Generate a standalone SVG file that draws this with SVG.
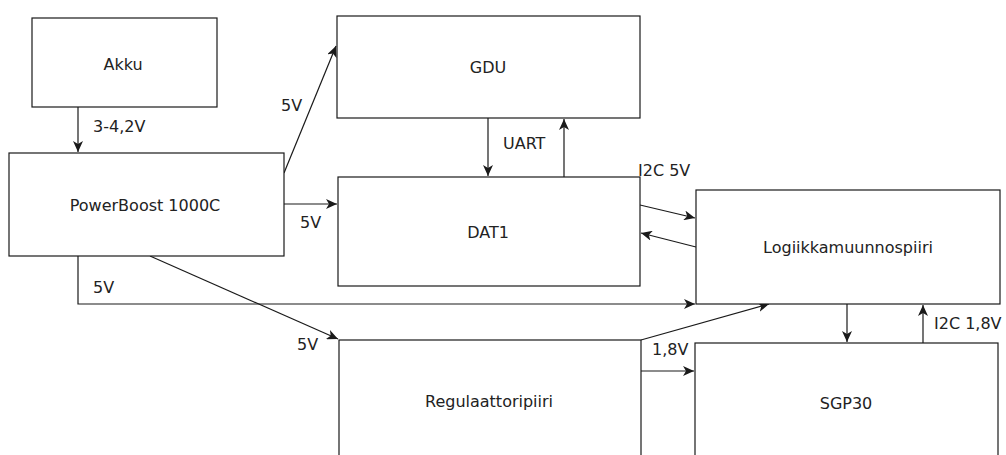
<svg xmlns="http://www.w3.org/2000/svg" width="1006" height="455" viewBox="0 0 1006 455">
<defs>
<marker id="arr" viewBox="0 0 11 10" refX="11" refY="5" markerWidth="11" markerHeight="10" markerUnits="userSpaceOnUse" orient="auto">
<path d="M0,0 L11,5 L0,10 L3,5 z" fill="#1a1a1a"/>
</marker>
<style>
.box{fill:#fff;stroke:#1a1a1a;stroke-width:1.2}
.t{font-family:"DejaVu Sans",Verdana,sans-serif;font-size:16px;fill:#222}
.c{text-anchor:middle}
.ln{fill:none;stroke:#1a1a1a;stroke-width:1.2}
.a{marker-end:url(#arr)}
</style>
</defs>
<rect width="1006" height="455" fill="#fff"/>
<g id="connectors">
<line class="ln a" x1="78" y1="107" x2="78" y2="152"/>
<line class="ln a" x1="284" y1="173" x2="336" y2="46"/>
<line class="ln a" x1="284" y1="204" x2="337" y2="204"/>
<polyline class="ln a" points="78,256 78,304 695,304"/>
<line class="ln a" x1="150" y1="256" x2="338" y2="339"/>
<line class="ln a" x1="488" y1="118" x2="488" y2="176"/>
<line class="ln a" x1="564" y1="177" x2="564" y2="119"/>
<line class="ln a" x1="640" y1="205" x2="695" y2="218"/>
<line class="ln a" x1="696" y1="247" x2="641" y2="233"/>
<line class="ln a" x1="641" y1="340" x2="769" y2="304"/>
<line class="ln a" x1="641" y1="371" x2="694" y2="371"/>
<line class="ln a" x1="847" y1="304" x2="847" y2="342"/>
<line class="ln a" x1="923" y1="343" x2="923" y2="305"/>
<text class="t" x="93" y="132">3-4,2V</text>
<text class="t" x="281" y="111">5V</text>
<text class="t" x="300" y="228">5V</text>
<text class="t" x="93" y="293">5V</text>
<text class="t" x="297" y="350">5V</text>
<text class="t" x="503" y="149">UART</text>
<text class="t" x="638" y="176">I2C 5V</text>
<text class="t" x="652" y="355">1,8V</text>
<text class="t" x="934" y="329">I2C 1,8V</text>
</g>
<g id="akku"><rect class="box" x="32" y="18" width="185" height="89"/><text class="t c" x="123" y="70">Akku</text></g>
<g id="powerboost"><rect class="box" x="9" y="153" width="275" height="103"/><text class="t c" x="145" y="211">PowerBoost 1000C</text></g>
<g id="gdu"><rect class="box" x="337" y="16" width="303" height="102"/><text class="t c" x="488" y="73">GDU</text></g>
<g id="dat1"><rect class="box" x="338" y="177" width="302" height="109"/><text class="t c" x="488" y="238">DAT1</text></g>
<g id="logiikka"><rect class="box" x="696" y="190" width="304" height="114"/><text class="t c" x="848" y="253">Logiikkamuunnospiiri</text></g>
<g id="regulaattori"><rect class="box" x="339" y="340" width="302" height="130"/><text class="t c" x="489" y="407">Regulaattoripiiri</text></g>
<g id="sgp30"><rect class="box" x="695" y="343" width="303" height="130"/><text class="t c" x="846" y="409">SGP30</text></g>
</svg>
